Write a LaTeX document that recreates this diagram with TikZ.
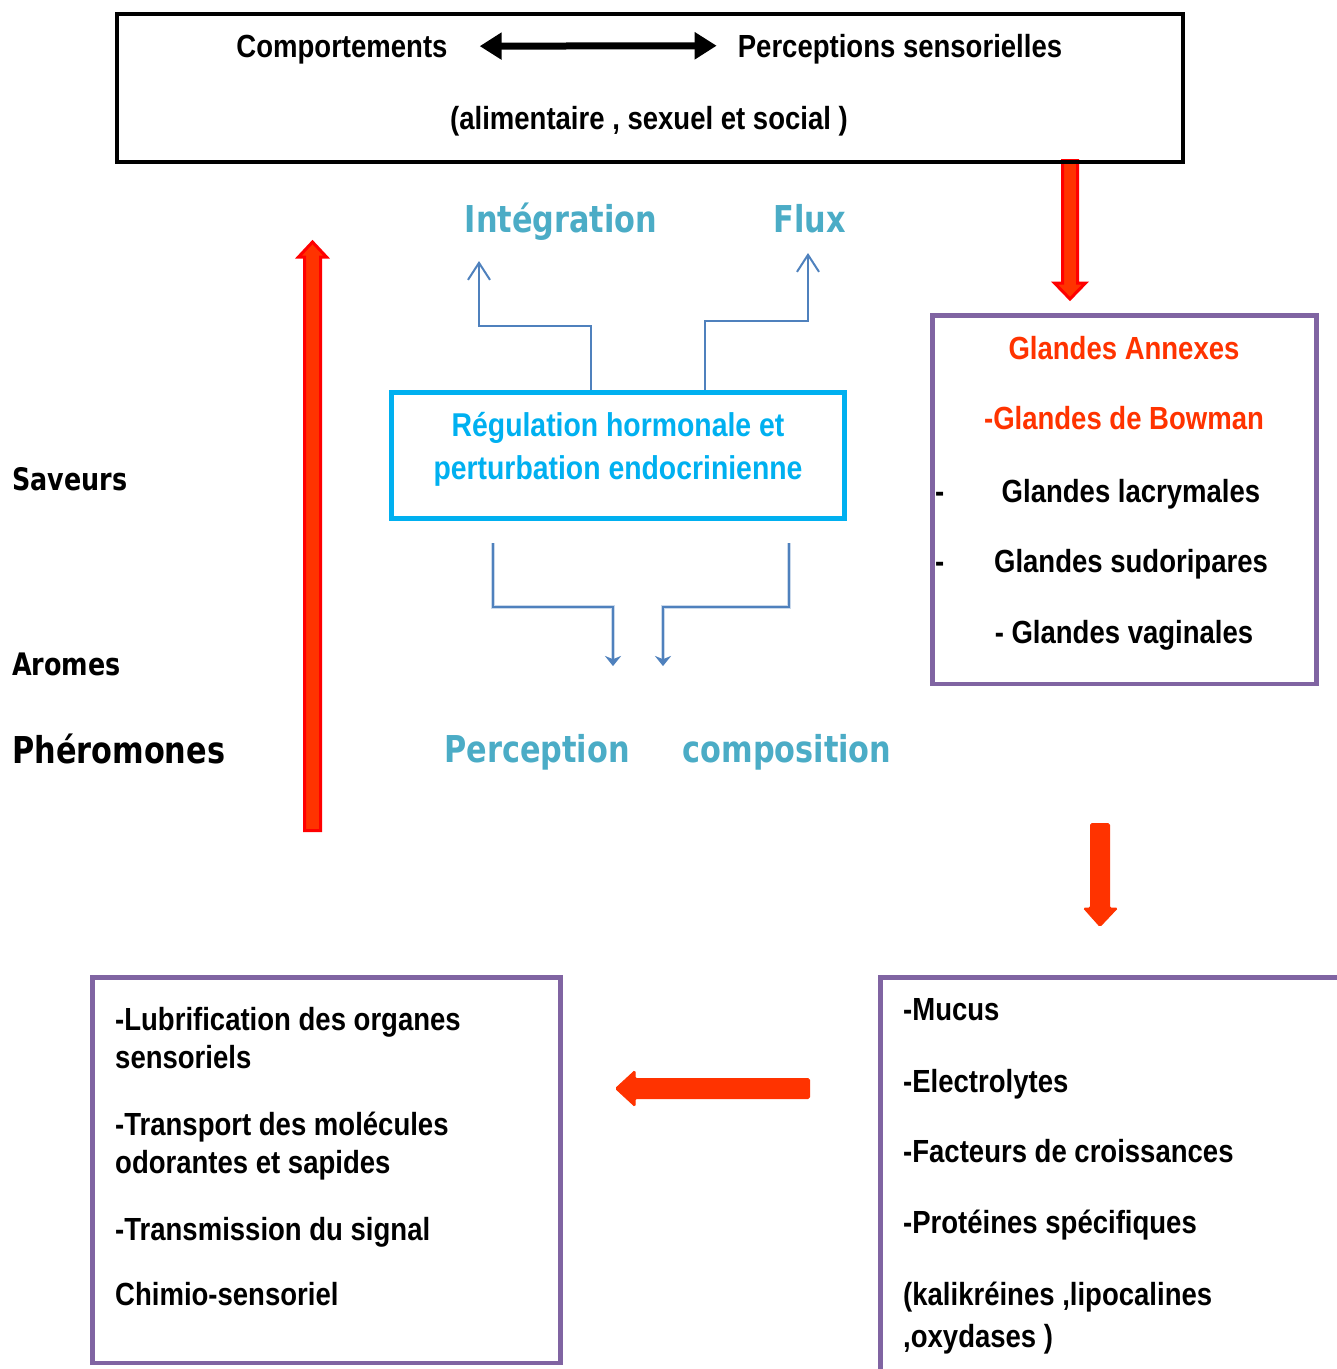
\documentclass[tikz,border=0pt]{standalone}
\usepackage{fontspec}
\setmainfont{Liberation Sans}
\newfontfamily\narrowfont[FakeStretch=0.86]{Liberation Sans}
\newfontfamily\verdfont[FakeStretch=0.82]{DejaVu Sans}
\usetikzlibrary{arrows.meta}

\definecolor{headblue}{HTML}{4BACC6}
\definecolor{boxcyan}{HTML}{00B0F0}
\definecolor{linkblue}{HTML}{4F81BD}
\definecolor{boxpurple}{HTML}{8064A2}
\definecolor{orangered}{HTML}{FF3300}

\tikzset{
  blk/.style={inner sep=0pt, font=\narrowfont\bfseries\fontsize{32}{38}\selectfont},
  redtxt/.style={blk, text=orangered},
  cyantxt/.style={inner sep=0pt, text=boxcyan, align=center,
    font=\narrowfont\bfseries\fontsize{33}{43}\selectfont},
  head/.style={inner sep=0pt, text=headblue, font=\verdfont\bfseries\fontsize{37}{44}\selectfont},
  side/.style={inner sep=0pt, font=\verdfont\bfseries\fontsize{31}{37}\selectfont},
  purplebox/.style={draw=boxpurple, line width=4.5pt, inner sep=0pt},
  link/.style={linkblue, line width=2pt, -{Straight Barb[length=17pt,width=22pt]}},
  fuzzy/.style={linkblue, line width=1.8pt, -{Stealth[length=10pt,width=16pt]},
    preaction={draw=linkblue!30, line width=4.5pt}},
  blockred/.style={fill=orangered, draw=red, line width=3pt},
  blocksolid/.style={fill=orangered, draw=orangered, line width=1pt, rounded corners=1.5pt}
}

\begin{document}
\begin{tikzpicture}[x=1pt,y=-1pt]
\useasboundingbox (0,0) rectangle (1337,1369);
\clip (0,0) rectangle (1337,1369);

% red arrow down to the glands
\filldraw[blockred] (1062.5,160.5) -- (1062.5,283) -- (1054.5,283) -- (1070,299)
  -- (1085.5,283) -- (1077.5,283) -- (1077.5,160.5) -- cycle;

% top box
\node[draw, line width=4.5pt, minimum width=1066, minimum height=148] (top) at (650,88) {};
\node[blk, anchor=base] (comp) at (342,57) {Comportements};
\node[blk, anchor=base] (percep) at (900,57) {Perceptions sensorielles};
\node[blk, anchor=base] (alim) at (649,129) {(alimentaire , sexuel et social )};
\draw[line width=7pt, {Triangle[length=22pt,width=26pt]}-{Triangle[length=22pt,width=26pt]}]
  ([xshift=32pt,yshift=3pt]comp.east) -- ([xshift=-21pt,yshift=3pt]percep.west);

% left column
\filldraw[blockred] (304.5,830.5) -- (304.5,257) -- (298.5,257) -- (312.5,242)
  -- (326.5,257) -- (320.5,257) -- (320.5,830.5) -- cycle;
\node[side, anchor=base west] (sav) at (12,490) {Saveurs};
\node[side, anchor=base west] (aro) at (12,675) {Aromes};
\node[side, font=\verdfont\bfseries\fontsize{37}{44}\selectfont, anchor=base west] (phero) at (12,763) {Phéromones};

% regulation
\node[draw=boxcyan, line width=5pt, minimum width=453, minimum height=126] (reg) at (618,455) {};
\node[cyantxt] (regtxt) at (618,449) {Régulation hormonale et\\perturbation endocrinienne};
\node[head, anchor=base] (integ) at (561,232) {Intégration};
\node[head, anchor=base] (flux) at (810,232) {Flux};
\node[head, anchor=base] (perc) at (537,762) {Perception};
\node[head, anchor=base] (compo) at (787,762) {composition};

\coordinate (kA) at (591,326);
\coordinate (kB) at (705,321);
\coordinate (intA) at (479,261);
\coordinate (intB) at (808,253);
\draw[link] (reg.north -| kA) -- (kA) -| (intA);
\draw[link] (reg.north -| kB) -- (kB) -| (intB);

\coordinate (sA) at (493,543);
\coordinate (cA) at (613,607);
\coordinate (pA) at (613,666);
\coordinate (sB) at (789,543);
\coordinate (cB) at (663,607);
\coordinate (pB) at (663,666);
\draw[fuzzy] (sA) |- (cA) -- (pA);
\draw[fuzzy] (sB) |- (cB) -- (pB);

% glands
\node[purplebox, minimum width=384, minimum height=368.5] (glandes) at (1124.5,499.75) {};
\node[redtxt, anchor=base] (gA) at (1124,359) {Glandes Annexes};
\node[redtxt, anchor=base] (gB) at (1124,429) {-Glandes de Bowman};
\node[blk, anchor=base] (gC) at (1131,502) {Glandes lacrymales};
\node[blk, anchor=base west] (dC) at (935,502) {-};
\node[blk, anchor=base] (gD) at (1131,572) {Glandes sudoripares};
\node[blk, anchor=base west] (dD) at (935,572) {-};
\node[blk, anchor=base] (gE) at (1124,643) {- Glandes vaginales};

\filldraw[blocksolid] (1090.5,823.5) -- (1090.5,908) -- (1083.5,908) -- (1100,926.5)
  -- (1117.5,908) -- (1109.5,908) -- (1109.5,823.5) -- cycle;

% secretions
\node[purplebox, minimum width=469.5, minimum height=412.5] (secr) at (1115.25,1183.75) {};
\node[blk, anchor=base west] (s1) at (903,1020) {-Mucus};
\node[blk, anchor=base west] (s2) at (903,1092) {-Electrolytes};
\node[blk, anchor=base west] (s3) at (903,1162) {-Facteurs de croissances};
\node[blk, anchor=base west] (s4) at (903,1233) {-Protéines spécifiques};
\node[blk, anchor=base west] (s5) at (903,1305) {(kalikréines ,lipocalines};
\node[blk, anchor=base west] (s6) at (903,1347) {,oxydases )};

\filldraw[blocksolid] (809.5,1078.5) -- (635,1078.5) -- (635,1070.5) -- (615.5,1088.5)
  -- (635,1106.5) -- (635,1098.5) -- (809.5,1098.5) -- cycle;

% roles
\node[purplebox, minimum width=468, minimum height=385.5] (roles) at (326.5,1170.25) {};
\node[blk, anchor=base west] (r1) at (115,1030) {-Lubrification des organes};
\node[blk, anchor=base west] (r2) at (115,1068) {sensoriels};
\node[blk, anchor=base west] (r3) at (115,1135) {-Transport des molécules};
\node[blk, anchor=base west] (r4) at (115,1173) {odorantes et sapides};
\node[blk, anchor=base west] (r5) at (115,1240) {-Transmission du signal};
\node[blk, anchor=base west] (r6) at (115,1305) {Chimio-sensoriel};
\end{tikzpicture}
\end{document}
